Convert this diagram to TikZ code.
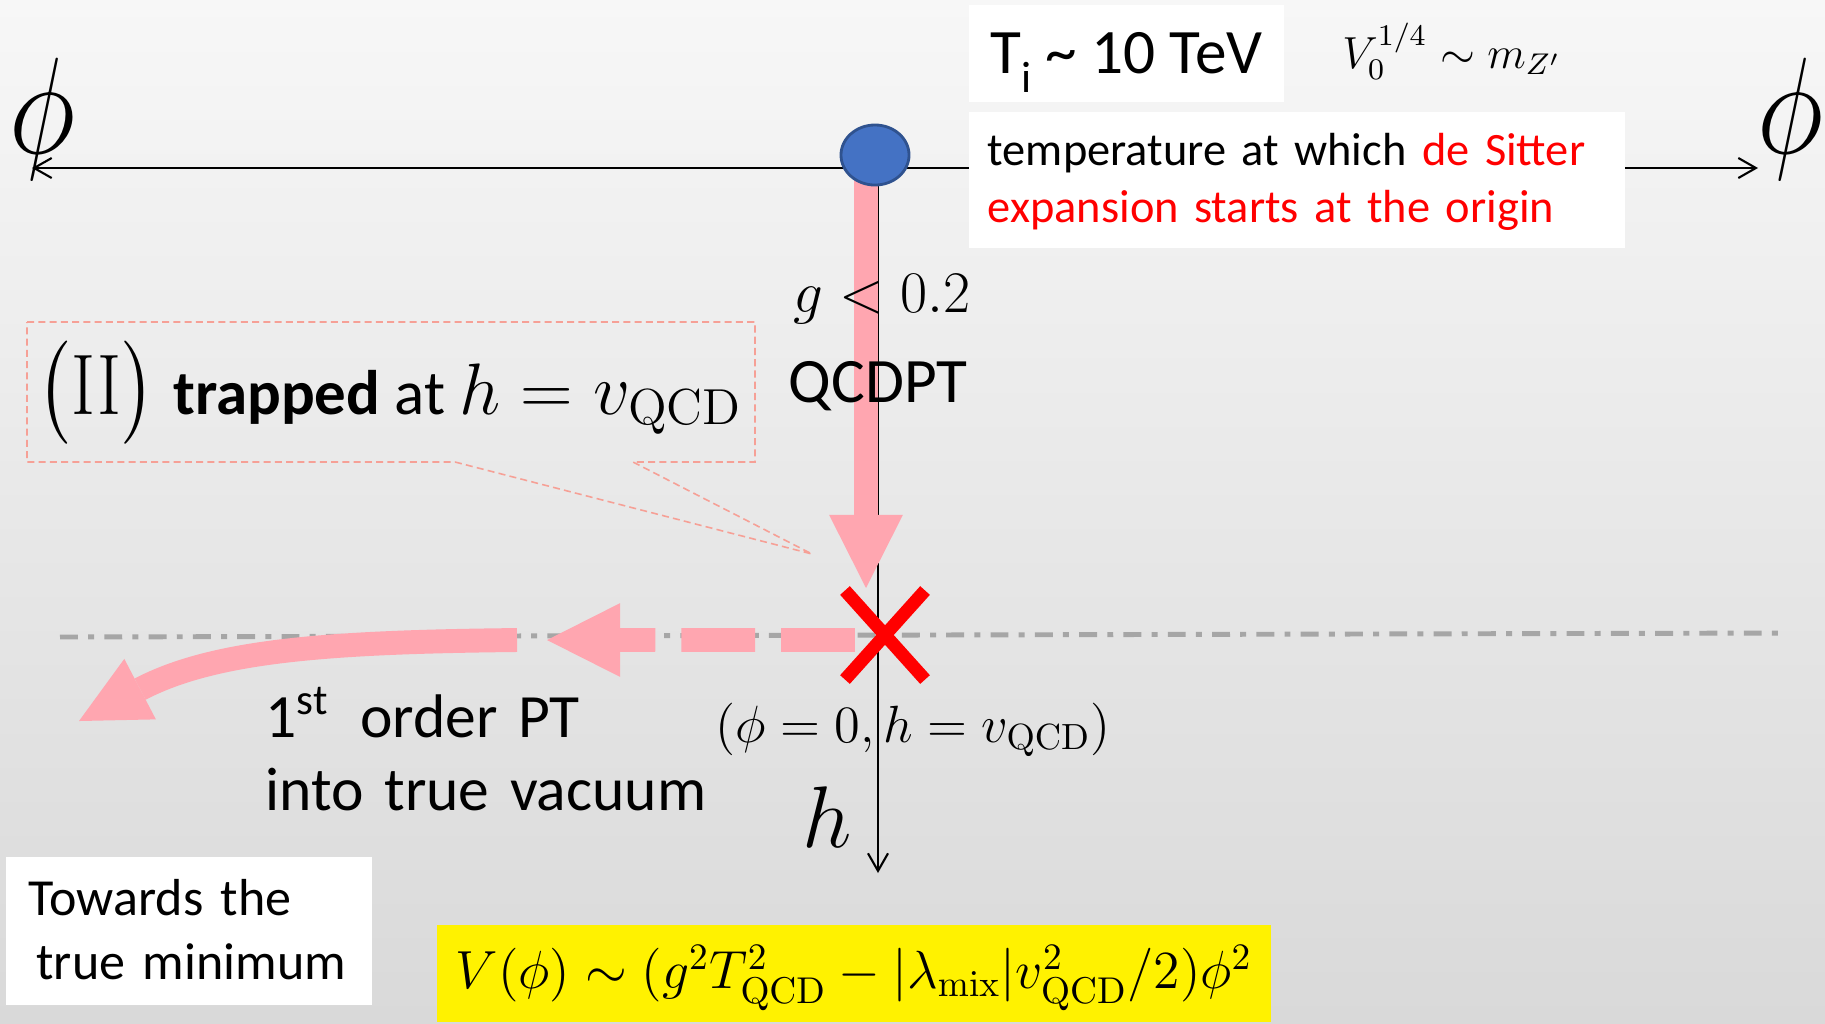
\documentclass[tikz,border=0pt]{standalone}
\usepackage{amsmath,amssymb}
\usepackage[no-math]{fontspec}
\setmainfont{Carlito}
\usetikzlibrary{arrows.meta,positioning,shapes.geometric,shapes.misc}
\definecolor{flow}{RGB}{255,166,176}
\definecolor{note}{RGB}{246,160,150}
\definecolor{dotblue}{RGB}{68,114,196}
\definecolor{dotedge}{RGB}{47,82,143}
\definecolor{level}{RGB}{166,166,166}
\definecolor{bgtop}{RGB}{247,247,247}
\definecolor{bgbot}{RGB}{217,217,217}

\begin{document}
\begin{tikzpicture}[x=0.01cm, y=-0.01cm,
    axis/.style={line width=0.6pt},
    flowarrow/.style={draw=flow, line width=6.8pt, -{Triangle[length=20.8pt,width=21pt,line width=0pt]}},
    whitebox/.style={fill=white, inner ysep=0pt, anchor=north west},
    axislabel/.style={font=\fontsize{24.88}{28}\selectfont, xscale=1.3, yscale=1.57}]
  \useasboundingbox (0,0) rectangle (1825,1023);
  \shade[top color=bgtop, bottom color=bgbot] (0,0) rectangle (1825,1023);

  \draw[level, line width=1.4pt, dash pattern=on 5.1pt off 2.9pt on 1.7pt off 2.9pt] (60,637) -- (1787,633);

  \coordinate (phiL) at (32,168);
  \coordinate (phiR) at (1758,168);
  \coordinate (hO) at (878,168);
  \coordinate (hE) at (878,873);
  \coordinate (origin) at (875,155);
  \coordinate (trap) at (885,635);
  \coordinate (escape) at (547,640);
  \coordinate (bend) at (517,640);
  \coordinate (minimum) at (79,721);

  \draw[axis, {Straight Barb[length=5pt,width=5.7pt]}-{Straight Barb[length=5pt,width=5.7pt]}] (phiL) -- (phiR);
  \draw[axis, -{Straight Barb[length=5pt,width=5.7pt]}] (hO) -- (hE);

  \draw[flowarrow] ([xshift=-0.09cm]origin) -- ([xshift=-0.19cm,yshift=0.47cm]trap);
  \draw[flowarrow, dash pattern=on 21pt off 7.4pt] ([xshift=-0.3cm,yshift=-0.05cm]trap) -- (escape);
  \draw[flowarrow, -{Triangle[length=19.6pt,width=19.4pt,line width=0pt]}] (bend) .. controls (330,642) and (215,650) .. (minimum);

  \node[ellipse, fill=dotblue, draw=dotedge, line width=0.8pt, inner sep=0pt, minimum width=0.68cm, minimum height=0.6cm] (dot) at (origin) {};
  \node[cross out, draw=red, line width=3.7pt, inner sep=0pt, outer sep=0pt, minimum width=0.8cm, minimum height=0.89cm] (cross) at (trap) {};

  \node[axislabel] (phileft) at (42,119) {$\phi$};
  \node[axislabel] (phiright) at (1790,119) {$\phi$};
  \node[font=\fontsize{17.28}{20}\selectfont, scale=0.97, anchor=base] (gbound) at (882,312) {$g<0.2$};
  \node[font=\fontsize{18}{22}\selectfont, anchor=base] (qcdpt) at (878,402) {QCDPT};

  \draw[note, line width=0.45pt, dash pattern=on 2pt off 1.2pt] (27,322) -- (755,322) -- (755,462) -- (633,462) -- (812,554) -- (455,462) -- (27,462) -- cycle;
  \node[font=\fontsize{17.9}{22}\selectfont, anchor=base] (trapnote) at (390,414) {{\fontsize{20.74}{22}\selectfont\scalebox{1}[1.18]{$\bigl(\mathrm{II}\bigr)$}}\hspace{0.3em}\textbf{trapped} at {\fontsize{20.74}{24}\selectfont$h=v_{\mathrm{QCD}}$}};

  \node[font=\fontsize{14.4}{18}\selectfont, scale=1.035, anchor=base] (vacpoint) at (913,742) {$(\phi=0,h=v_{\mathrm{QCD}})$};
  \node[font=\fontsize{24.88}{28}\selectfont, anchor=base] (hlabel) at (827,847) {$h$};
  \node[font=\fontsize{17.5}{21}\selectfont, anchor=base west, text width=6cm, align=left, inner sep=0pt] (firstorder) at (265,737) {1\textsuperscript{st}\hspace{0.5em}order PT\\into true vacuum};

  \node[whitebox, minimum width=3.15cm, text height=0.69cm, text depth=0.28cm, font=\fontsize{18}{22}\selectfont] (tinit) at (968,4) {T\raisebox{-0.3em}{\fontsize{12.5}{14}\selectfont i} \textasciitilde{} 10 TeV};
  \node[font=\fontsize{12}{16}\selectfont, scale=1.065, anchor=base] (vscale) at (1452,68) {$V_0^{1/4}\sim m_{Z'}$};
  \node[whitebox, text width=6.18cm, align=left, inner xsep=0.19cm, text height=0.54cm, text depth=0.82cm, font=\fontsize{13.2}{16.2}\selectfont] (desitter) at (968,111) {temperature at which \textcolor{red}{de Sitter}\\\textcolor{red}{expansion starts at the origin}};

  \node[whitebox, text width=3.2cm, align=left, inner xsep=0.23cm, text height=0.59cm, text depth=0.89cm, font=\fontsize{14.8}{18}\selectfont] (towards) at (5,856) {Towards the\\\hspace*{0.15em}true minimum};
  \node[whitebox, fill=yellow, minimum width=8.34cm, inner xsep=0.05cm, text height=0.64cm, text depth=0.33cm, font=\fontsize{14.4}{18}\selectfont] (potential) at (436,924) {\scalebox{1.06}{$V(\phi)\sim(g^2T_{\mathrm{QCD}}^2-|\lambda_{\mathrm{mix}}|v_{\mathrm{QCD}}^2/2)\phi^2$}};
\end{tikzpicture}
\end{document}
